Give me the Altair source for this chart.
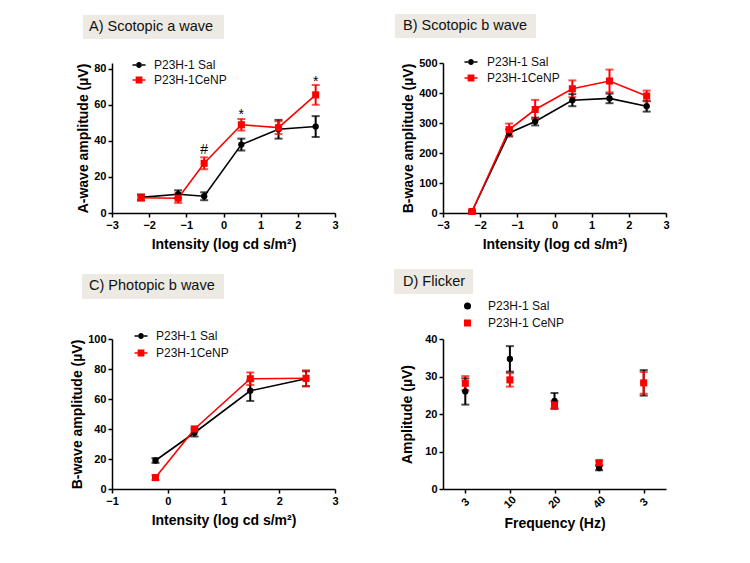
import altair as alt
import pandas as pd

FONT = "Liberation Sans"
COLORS = ["#000000", "#ff0000"]
NAMES = ["P23H-1 Sal", "P23H-1CeNP"]
NAMES_D = ["P23H-1 Sal", "P23H-1 CeNP"]
BOX_COLOR = "#ECEAE2"

# ---- A) Scotopic a wave ----
A_x = [-2.22, -1.22, -0.52, 0.48, 1.48, 2.48]
A_sal = [8.7, 10.4, 9.3, 38.0, 46.5, 48.0]
A_sal_err = [1.6, 2.2, 2.2, 3.3, 5.2, 5.8]
A_cenp = [8.5, 8.2, 27.6, 49.0, 47.4, 65.6]
A_cenp_err = [1.6, 2.6, 3.3, 3.2, 3.5, 5.5]
A_ann_text = ["#", "*", "*"]
A_ann_x = [-0.52, 0.48, 2.48]
A_ann_y = [35.0, 54.5, 73.0]

# ---- B) Scotopic b wave ----
B_x = [-2.22, -1.22, -0.52, 0.48, 1.48, 2.48]
B_sal = [5, 267, 305, 376, 382, 356]
B_sal_err = [3, 12, 13, 20, 16, 18]
B_cenp = [5, 278, 345, 414, 440, 390]
B_cenp_err = [3, 20, 32, 28, 38, 18]

# ---- C) Photopic b wave ----
C_x = [-0.22, 0.48, 1.48, 2.48]
C_sal = [19.0, 37.5, 65.5, 73.5]
C_sal_err = [1.6, 2.5, 6.8, 5.0]
C_cenp = [7.6, 40.0, 73.5, 73.8]
C_cenp_err = [1.6, 1.5, 4.2, 5.3]

# ---- D) Flicker ----
D_freq = ["3", "10", "20", "40", "3 "]
D_sal = [26.0, 34.7, 23.5, 5.6, 28.3]
D_sal_err = [3.5, 3.4, 2.1, 0.6, 3.4]
D_cenp = [28.2, 29.1, 22.4, 7.0, 28.3]
D_cenp_err = [1.9, 1.8, 1.0, 0.6, 2.9]

# legend symbols: marker with a line through it
PATH_CIRCLE_LINE = ("M-1,-0.11H-0.42V0.11H-1Z M0.42,-0.11H1V0.11H0.42Z "
                    "M-0.46,0A0.46,0.46 0 1,0 0.46,0A0.46,0.46 0 1,0 -0.46,0Z")
PATH_SQUARE_LINE = ("M-1,-0.11H-0.5V0.11H-1Z M0.5,-0.11H1V0.11H0.5Z "
                    "M-0.52,-0.52H0.52V0.52H-0.52Z")

AX = dict(grid=False, domainColor="black", domainWidth=1.5, tickColor="black", tickWidth=1.5,
          tickSize=4, labelFont=FONT, labelFontSize=11, labelFontWeight="bold",
          labelColor="black", labelPadding=2, labelFlush=False, labelOverlap=False,
          titleFont=FONT, titleFontSize=14, titleFontWeight="bold", titleColor="black")


def long_df(xs, sal, sal_err, cenp, cenp_err, names):
    rows = []
    for name, ys, es in ((names[0], sal, sal_err), (names[1], cenp, cenp_err)):
        for xi, yi, ei in zip(xs, ys, es):
            rows.append({"x": xi, "y": yi, "lo": yi - ei, "hi": yi + ei,
                         "series": name, "lseries": name})
    return pd.DataFrame(rows)


def panel(df, x_enc, y_domain, y_values, y_title, title, box, text_xy,
          legend_pos, legend_paths, legend_size, row_pad, label_offset,
          y_title_pad, lines=True, ann=None):
    names = list(dict.fromkeys(df["series"]))
    cscale = alt.Scale(domain=names, range=COLORS)
    yscale = alt.Scale(domain=y_domain, nice=False, zero=True)
    yaxis = alt.Axis(values=y_values, title=y_title, titlePadding=y_title_pad, **AX)

    def Y(field):
        return alt.Y(field, type="quantitative", scale=yscale, axis=yaxis)

    base = alt.Chart(df)
    layers = []

    # title box
    tdf = pd.DataFrame({"t": [title]})
    layers.append(alt.Chart(tdf).mark_rect(color=BOX_COLOR).encode(
        x=alt.value(box[0]), x2=alt.value(box[1]), y=alt.value(box[2]), y2=alt.value(box[3])))
    layers.append(alt.Chart(tdf).mark_text(
        font=FONT, fontSize=14.5, align="left", baseline="middle", color="#111111").encode(
        x=alt.value(text_xy[0]), y=alt.value(text_xy[1]), text="t:N"))

    col = alt.Color("series:N", scale=cscale, legend=None)
    if lines:
        layers.append(base.mark_line(strokeWidth=1.6).encode(
            x=x_enc, y=Y("y"), color=col, detail="series:N"))
    layers.append(base.mark_rule(strokeWidth=2).encode(
        x=x_enc, y=Y("lo"), y2="hi:Q", color=col))
    layers.append(base.mark_tick(orient="horizontal", size=8, thickness=2).encode(
        x=x_enc, y=Y("hi"), color=col))
    layers.append(base.mark_tick(orient="horizontal", size=8, thickness=2).encode(
        x=x_enc, y=Y("lo"), color=col))
    layers.append(base.mark_point(filled=True, opacity=1).encode(
        x=x_enc, y=Y("y"), color=col,
        shape=alt.Shape("series:N", scale=alt.Scale(domain=names, range=["circle", "square"]), legend=None),
        size=alt.Size("series:N", scale=alt.Scale(domain=names, range=[40, 50]), legend=None)))

    leg = alt.Legend(orient="none", legendX=legend_pos[0], legendY=legend_pos[1], title=None,
                     labelFont=FONT, labelFontSize=12, labelColor="#111111",
                     symbolSize=legend_size, symbolOpacity=1, symbolStrokeWidth=0,
                     rowPadding=row_pad, labelOffset=label_offset)
    layers.append(base.mark_point(filled=True, opacity=0).encode(
        x=x_enc, y=Y("y"),
        color=alt.Color("lseries:N", scale=alt.Scale(domain=names, range=COLORS), legend=leg),
        shape=alt.Shape("lseries:N", scale=alt.Scale(domain=names, range=legend_paths), legend=leg)))

    if ann is not None:
        layers.append(alt.Chart(ann).mark_text(font=FONT, fontSize=14, color="black").encode(
            x=x_enc, y=Y("y"), text="t:N"))

    return alt.layer(*layers).resolve_scale(
        color="independent", shape="independent", size="independent"
    ).properties(width=223, height=150)


def x_log(domain, values):
    return alt.X("x:Q", scale=alt.Scale(domain=domain, nice=False, zero=False),
                 axis=alt.Axis(values=values, title="Intensity (log cd s/m²)",
                               titlePadding=7, **AX))


ann_A = pd.DataFrame({"x": A_ann_x, "y": A_ann_y, "t": A_ann_text})

pA = panel(long_df(A_x, A_sal, A_sal_err, A_cenp, A_cenp_err, NAMES),
           x_log([-3, 3], [-3, -2, -1, 0, 1, 2, 3]), [0, 83.3], [0, 20, 40, 60, 80],
           "A-wave amplitude (µV)", "A) Scotopic a wave",
           (-29, 112, -48, -24), (-23, -36), (20.5, -4.5),
           [PATH_CIRCLE_LINE, PATH_SQUARE_LINE], 169, 2, 8.5, 3, ann=ann_A)

pB = panel(long_df(B_x, B_sal, B_sal_err, B_cenp, B_cenp_err, NAMES),
           x_log([-3, 3], [-3, -2, -1, 0, 1, 2, 3]), [0, 500], [0, 100, 200, 300, 400, 500],
           "B-wave amplitude (µV)", "B) Scotopic b wave",
           (-48, 93, -49, -25), (-40, -37), (21.5, -7.5),
           [PATH_CIRCLE_LINE, PATH_SQUARE_LINE], 169, 3, 9.5, 3)

pC = panel(long_df(C_x, C_sal, C_sal_err, C_cenp, C_cenp_err, NAMES),
           x_log([-1, 3], [-1, 0, 1, 2, 3]), [0, 100], [0, 20, 40, 60, 80, 100],
           "B-wave amplitude (µV)", "C) Photopic b wave",
           (-30, 112, -65, -40), (-23, -53), (22.5, -9.5),
           [PATH_CIRCLE_LINE, PATH_SQUARE_LINE], 169, 4, 8.5, 3)

dfD = long_df(D_freq, D_sal, D_sal_err, D_cenp, D_cenp_err, NAMES_D)
xD = alt.X("x:N", sort=D_freq,
           scale=alt.Scale(type="point", domain=D_freq, padding=0.5),
           axis=alt.Axis(title="Frequency (Hz)", labelAngle=-45, labelAlign="center",
                         labelBaseline="middle", titlePadding=7,
                         **{**AX, "labelPadding": 9}))
pD = panel(dfD, xD, [0, 40], [0, 10, 20, 30, 40],
           "Amplitude (µV)", "D) Flicker",
           (-49, 30, -70, -45), (-40, -57), (18.5, -39),
           ["circle", "square"], 49, 5, 14.5, 10, lines=False)

chart = alt.concat(
    pA, pB, pC, pD, columns=2, spacing={"row": 126, "column": 108}, bounds="flush"
).resolve_scale(
    color="independent", shape="independent", size="independent"
).properties(
    padding={"left": 62, "top": 6, "right": 5, "bottom": 5}, background="white"
).configure_view(stroke=None)

chart.save("out.html", embed_options={"renderer": "svg", "actions": False})
